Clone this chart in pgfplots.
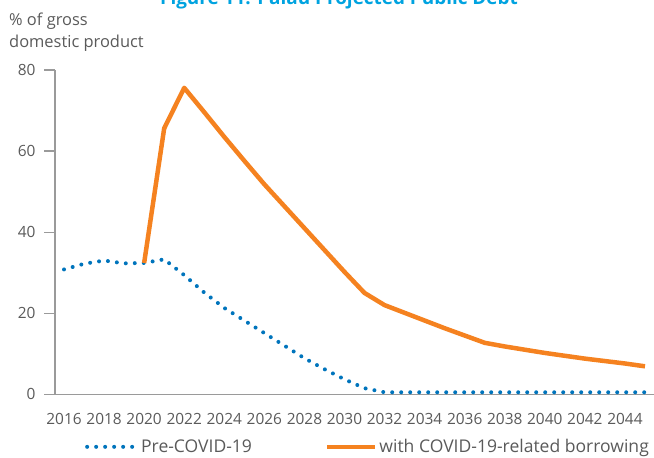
\documentclass[border=0pt]{standalone}
\usepackage{fontspec}
\setmainfont{Open Sans}
\usepackage{pgfplots}
\pgfplotsset{compat=1.18}
\definecolor{ablue}{HTML}{0074BC}
\definecolor{aorange}{HTML}{F58220}
\definecolor{tgray}{HTML}{5A5A5A}
\definecolor{agray}{HTML}{9A9A9A}
\definecolor{tblue}{HTML}{00A3E0}
\pgfplotsset{
  bluelegend/.style={legend image code/.code={\draw[##1] (0bp,0bp) -- (50bp,0bp);}},
  orangelegend/.style={legend image code/.code={\draw[##1] (0bp,0bp) -- (48bp,0bp);}},
}
\begin{document}
\begin{tikzpicture}[x=1bp,y=1bp]
\begin{axis}[
  at={(0,0)}, anchor=south west,
  scale only axis, width=599bp, height=324.3bp,
  xmin=2015.55, xmax=2045.45, ymin=0, ymax=80,
  axis x line*=bottom, axis y line*=left,
  axis line style={agray, line width=1.2bp, -},
  xtick={2016,2018,...,2044},
  ytick={0,20,...,80},
  /pgf/number format/1000 sep={},
  /pgf/number format/assume math mode=true,
  major tick length=11bp,
  tick align=outside,
  xtick style={draw=none},
  ytick style={agray, line width=1.2bp},
  tick label style={font=\fontsize{15.5}{18}\selectfont, text=tgray},
  xticklabel style={yshift=-4bp},
  yticklabel style={xshift=-5bp},
  clip=false,
  legend columns=2,
  legend style={at={(axis description cs:0.05,-0.162)}, anchor=west, draw=none, fill=none,
    font=\fontsize{17.6}{20}\selectfont, text=tgray, inner sep=0pt,
    /tikz/every even column/.append style={column sep=71bp}},
]
\addplot[ablue, line width=4bp, line cap=round, dash pattern=on 0bp off 9bp, bluelegend]
coordinates {
(2016,30.8)(2017,32.2)(2018,33.0)(2019,32.3)(2020,32.4)(2021,33.3)(2022,29.4)(2023,25.1)
(2024,21.3)(2025,18.2)(2026,15.1)(2027,12.0)(2028,8.9)(2029,6.2)(2030,3.7)(2031,1.5)
(2032,0.5)(2033,0.5)(2034,0.5)(2035,0.5)(2036,0.5)(2037,0.5)(2038,0.5)(2039,0.5)
(2040,0.5)(2041,0.5)(2042,0.5)(2043,0.5)(2044,0.5)(2045,0.5)};
\addlegendentry{Pre-COVID-19}
\addplot[aorange, line width=4.5bp, line join=round, orangelegend]
coordinates {
(2020,32.4)(2021,65.6)(2022,75.6)(2023,69.6)(2024,63.5)(2025,57.6)(2026,51.8)(2027,46.4)
(2028,41.0)(2029,35.6)(2030,30.2)(2031,25.0)(2032,22.0)(2033,20.1)(2034,18.2)(2035,16.3)
(2036,14.5)(2037,12.7)(2038,11.8)(2039,11.0)(2040,10.2)(2041,9.5)(2042,8.8)(2043,8.2)
(2044,7.6)(2045,6.9)};
\addlegendentry{with COVID-19-related borrowing}
\end{axis}
\node[anchor=north west, align=left, text=tgray, font=\fontsize{16.5}{23}\selectfont, inner sep=0pt]
  at (-46bp,382bp) {\% of gross\\domestic product};
\node[anchor=base, text=tblue, font=\fontsize{19}{22}\bfseries\selectfont, inner sep=0pt]
  at (284bp,389.3bp) {Figure 11: Palau Projected Public Debt};
\pgfresetboundingbox
\path[use as bounding box] (-55bp,-63.7bp) rectangle (599bp,394.3bp);
\end{tikzpicture}
\end{document}
